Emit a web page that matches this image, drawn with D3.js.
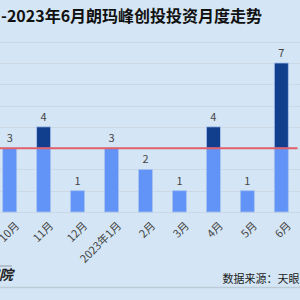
<!DOCTYPE html>
<html><head><meta charset="utf-8">
<script src="https://cdn.jsdelivr.net/npm/d3@7"></script>
<style>html,body{margin:0;padding:0;background:#d4e6f5;}svg{display:block;}</style>
</head><body>
<script>
const categories = ["10月","11月","12月","2023年1月","2月","3月","4月","5月","6月"];
const values = [3,4,1,3,2,1,4,1,7];
const refLine = 3;
const yTicks = [0,1,2,3,4,5,6,7,8];
const title = "-2023年6月朗玛峰创投投资月度走势";
const source = "数据来源：天眼查";

const W=300,H=300;
const svg=d3.select("body").append("svg").attr("width",W).attr("height",H);
svg.append("rect").attr("width",W).attr("height",H).attr("fill","#d4e6f5");

const font="'Noto Sans CJK SC','Noto Sans',sans-serif";
const x=d3.scalePoint().domain(categories).range([9.7,281.3]);
const y=d3.scaleLinear().domain([0,8]).range([212,41.7]);
const bw=14;

svg.append("text").attr("x",1).attr("y",22).text(title)
  .attr("font-family",font).attr("font-weight","bold").attr("font-size",16).attr("fill","#111");

svg.append("g").selectAll("line").data(yTicks).join("line")
  .attr("x1",0).attr("x2",W).attr("y1",d=>Math.round(y(d))+0.5).attr("y2",d=>Math.round(y(d))+0.5)
  .attr("stroke","#ccd8e3").attr("stroke-width",1);

const g=svg.append("g");
g.selectAll(".lo").data(values).join("rect")
  .attr("x",(d,i)=>x(categories[i])-bw/2).attr("width",bw)
  .attr("y",d=>y(Math.min(d,refLine))).attr("height",d=>y(0)-y(Math.min(d,refLine)))
  .attr("fill","#6293f7").attr("stroke","#a9c4f0").attr("stroke-width",0.8);
g.selectAll(".hi").data(values.map((v,i)=>({v,i})).filter(d=>d.v>refLine)).join("rect")
  .attr("x",d=>x(categories[d.i])-bw/2).attr("width",bw)
  .attr("y",d=>y(d.v)).attr("height",d=>y(refLine)-y(d.v))
  .attr("fill","#123f8d").attr("stroke","#a9c4f0").attr("stroke-width",0.8);

svg.append("line").attr("x1",0).attr("x2",297.5).attr("y1",y(refLine)).attr("y2",y(refLine))
  .attr("stroke","#e0606c").attr("stroke-width",2);

svg.append("g").selectAll("text").data(values).join("text")
  .attr("x",(d,i)=>x(categories[i])).attr("y",d=>y(d)-6)
  .attr("text-anchor","middle").text(d=>d)
  .attr("font-family",font).attr("font-size",11).attr("fill","#444");

svg.append("g").selectAll("text").data(categories).join("text")
  .attr("transform",d=>`translate(${x(d)+5},${221}) rotate(-45)`)
  .attr("text-anchor","end").attr("dy","0.7em").text(d=>d)
  .attr("font-family",font).attr("font-size",11).attr("fill","#444");

svg.append("line").attr("x1",0).attr("x2",W).attr("y1",287.5).attr("y2",287.5)
  .attr("stroke","#bccbd8").attr("stroke-width",1.5);

svg.append("text").attr("x",222.5).attr("y",283).text(source)
  .attr("font-family",font).attr("font-size",11).attr("fill","#222");

svg.append("line").attr("x1",0).attr("x2",12).attr("y1",266).attr("y2",266).attr("stroke","#666").attr("stroke-width",0.6);
svg.append("text").attr("x",13).attr("y",280).attr("text-anchor","end").text("研究院")
  .attr("font-family",font).attr("font-weight","bold").attr("font-style","italic").attr("font-size",14).attr("fill","#222");
</script>
</body></html>
